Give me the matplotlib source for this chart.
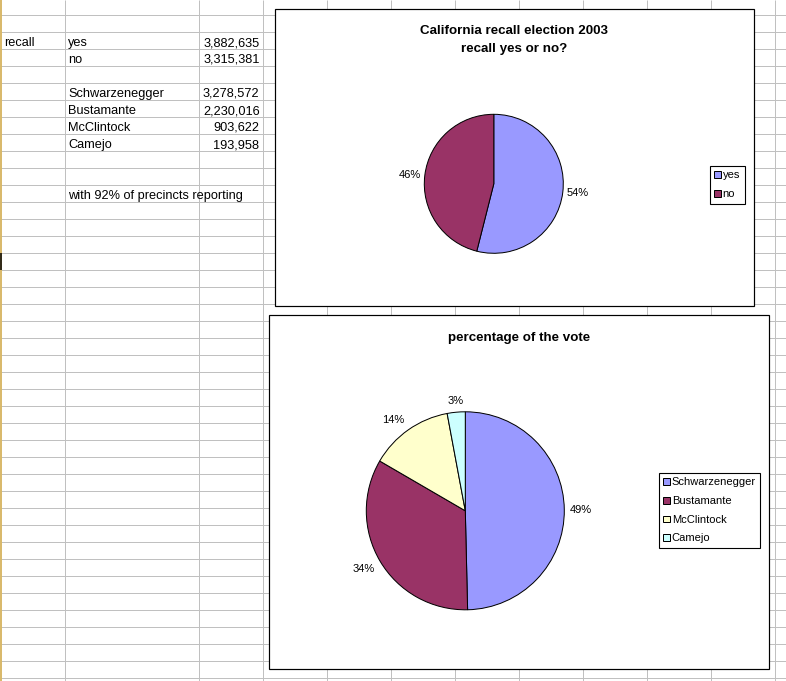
import math
import matplotlib
matplotlib.use("Agg")
import matplotlib.pyplot as plt
from matplotlib.patches import Rectangle

# ---------------- data ----------------
recall_labels = ["yes", "no"]
recall_votes = [3882635, 3315381]
recall_pct_labels = ["54%", "46%"]

candidates = ["Schwarzenegger", "Bustamante", "McClintock", "Camejo"]
candidate_votes = [3278572, 2230016, 903622, 193958]
candidate_pct_labels = ["49%", "34%", "14%", "3%"]

note_text = "with 92% of precincts reporting"
title1_lines = ["California recall election 2003", "recall yes or no?"]
title2 = "percentage of the vote"

slice_colors = ["#9999FF", "#993366", "#FFFFCC", "#CCFFFF"]

# ---------------- layout ----------------
W, H = 786, 681
FONT = "Liberation Sans"
PX = 0.72  # one pixel in points at dpi 100

fig = plt.figure(figsize=(W / 100, H / 100), dpi=100)
fig.patch.set_facecolor("white")
bg = fig.add_axes([0, 0, 1, 1])
bg.set_xlim(0, W)
bg.set_ylim(H, 0)
bg.axis("off")

# spreadsheet grid
grid_color = "#c0c0c0"
col_edges = [65, 199, 263, 327, 391, 455, 519, 583, 647, 711, 775]
row_top, row_h, n_rows = 15, 17, 40
row_edges = [row_top + row_h * k for k in range(n_rows)]
bg.vlines(col_edges, 0, H, colors=grid_color, lw=PX, zorder=1)
bg.hlines(row_edges, 0, W, colors=grid_color, lw=PX, zorder=1)
bg.vlines([0.8], 0, H, colors="#d8b868", lw=1.4, zorder=2)
bg.vlines([0.5], 253, 270, colors="black", lw=1.1, zorder=3)


def row_base(r):
    return row_top + row_h * (r + 1) - 3


cell_kw = dict(fontsize=9.2, family=FONT, va="baseline", zorder=4)
bg.text(4, row_base(1), "recall", **cell_kw)
for i, (lab, v) in enumerate(zip(recall_labels, recall_votes)):
    bg.text(68, row_base(1 + i), lab, **cell_kw)
    bg.text(259.5, row_base(1 + i), f"{v:,}", ha="right", **cell_kw)
for i, (lab, v) in enumerate(zip(candidates, candidate_votes)):
    bg.text(68, row_base(4 + i), lab, **cell_kw)
    bg.text(259.5, row_base(4 + i), f"{v:,}", ha="right", **cell_kw)
bg.text(68, row_base(10), note_text, **cell_kw)

# chart areas
chart1 = (275, 9, 754, 306)
chart2 = (269, 315, 769, 669)
for (x0, y0, x1, y1) in (chart1, chart2):
    bg.add_patch(Rectangle((x0, y0), x1 - x0, y1 - y0, facecolor="white",
                           edgecolor="black", lw=1.2 * PX, zorder=5))

title_kw = dict(ha="center", va="center", fontsize=9.6, fontweight="bold",
                family=FONT, zorder=6)
for i, line in enumerate(title1_lines):
    bg.text((chart1[0] + chart1[2]) / 2, 31.5 + 17.5 * i, line, **title_kw)
bg.text((chart2[0] + chart2[2]) / 2, 338.5, title2, **title_kw)


def make_pie(cx, cy, r, values, pct_labels, colors):
    S = 160.0
    ax = fig.add_axes([(cx - S) / W, 1 - (cy + S) / H, 2 * S / W, 2 * S / H])
    ax.patch.set_visible(False)
    wedges, texts = ax.pie(values, labels=pct_labels, colors=colors,
                           startangle=90, counterclock=False,
                           labeldistance=1.06,
                           wedgeprops=dict(edgecolor="black", linewidth=PX),
                           textprops=dict(fontsize=8, family=FONT))
    for w, t in zip(wedges, texts):
        ang = math.radians((w.theta1 + w.theta2) / 2)
        c, s = math.cos(ang), math.sin(ang)
        if abs(c) < 0.3:
            t.set_ha("center")
        if s > 0.5:
            t.set_va("bottom")
        elif s < -0.5:
            t.set_va("top")
    ax.set_xlim(-S / r, S / r)
    ax.set_ylim(-S / r, S / r)
    ax.axis("off")
    return wedges


w1 = make_pie(493.8, 183.8, 69.5, recall_votes, recall_pct_labels, slice_colors[:2])
w2 = make_pie(465.3, 510.8, 99.0, candidate_votes, candidate_pct_labels, slice_colors)

leg_kw = dict(loc="upper left", bbox_transform=bg.transData, frameon=True,
              fancybox=False, edgecolor="black", framealpha=1,
              handlelength=0.55, handleheight=0.55, handletextpad=0.2,
              borderpad=0.4, labelspacing=0.78, borderaxespad=0,
              prop=dict(family=FONT, size=8))
leg1 = bg.legend(w1, recall_labels, bbox_to_anchor=(710, 166), **leg_kw)
leg1.get_frame().set_linewidth(PX * 1.1)
leg1.set_zorder(7)
bg.add_artist(leg1)
leg2 = bg.legend(w2, candidates, bbox_to_anchor=(659, 473), **leg_kw)
leg2.get_frame().set_linewidth(PX * 1.1)
leg2.set_zorder(7)

fig.savefig("out.png", dpi=100)
